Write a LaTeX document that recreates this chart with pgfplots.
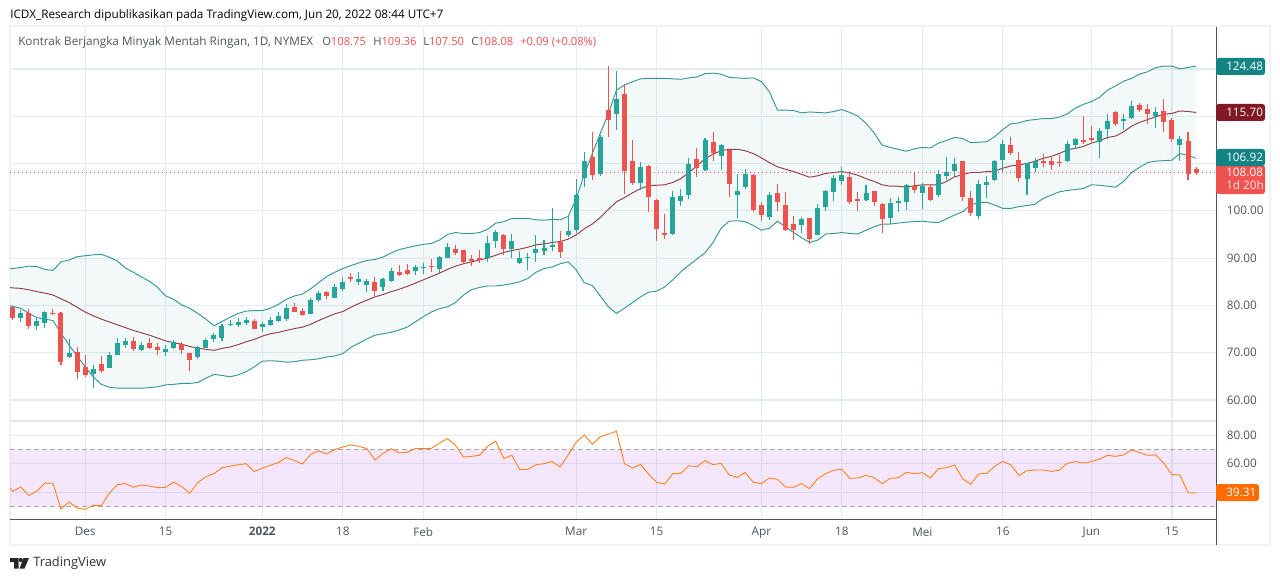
\documentclass[border=0pt]{standalone}
\usepackage{fontspec}
\usepackage{pgfplots}
\usepackage{pgfplotstable}
\pgfplotsset{compat=1.18}
\usepgfplotslibrary{fillbetween}
\setmainfont{Open Sans}

\definecolor{upcol}{HTML}{26A69A}
\definecolor{downcol}{HTML}{EF5350}
\definecolor{bandcol}{HTML}{138484}
\definecolor{midcol}{HTML}{801922}
\definecolor{rsicol}{HTML}{FF6D00}
\definecolor{gridcol}{HTML}{E4ECF2}
\definecolor{txtcol}{HTML}{50535E}
\definecolor{framecol}{HTML}{F0F3FA}
\definecolor{sepcol}{HTML}{E0E3EB}

% i open high low close
\pgfplotstableread{
i o h l c
0 79.7 79.7 76.9 77.4
1 77.3 79.0 76.5 78.4
2 78.4 79.2 75.0 75.6
3 75.6 77.3 74.8 76.7
4 76.3 78.8 75.3 78.6
5 78.3 79.2 78.0 78.1
6 78.4 78.6 67.4 68.0
7 69.1 72.9 68.9 69.9
8 70.1 71.2 64.4 65.9
9 67.0 69.5 64.9 65.3
10 65.5 67.4 62.5 66.6
11 67.6 69.3 65.7 66.1
12 66.8 70.1 66.8 69.5
13 69.5 73.1 69.5 72.1
14 71.6 73.1 71.0 72.5
15 72.5 73.3 70.4 70.8
16 70.6 72.3 70.4 71.6
17 72.1 73.1 70.8 71.0
18 71.2 72.1 69.5 70.6
19 70.1 71.6 69.3 70.8
20 71.0 72.7 70.8 72.3
21 71.9 72.3 69.7 70.6
22 69.9 69.9 66.1 68.5
23 69.1 71.4 68.7 71.2
24 71.0 73.1 71.0 72.7
25 72.9 74.2 72.3 73.7
26 73.1 76.1 72.5 75.6
27 75.9 76.9 75.6 76.1
28 75.9 77.3 75.4 76.5
29 76.3 77.5 75.9 76.9
30 76.7 77.1 75.0 75.0
31 75.4 76.5 74.4 76.1
32 75.9 77.5 75.6 76.9
33 76.8 78.6 76.5 77.8
34 77.1 80.3 76.7 79.5
35 79.7 80.5 78.6 78.6
36 78.8 79.5 77.8 78.0
37 78.2 81.6 78.2 81.1
38 81.1 83.0 80.7 82.6
39 82.8 83.0 81.4 82.0
40 81.6 84.5 81.6 83.9
41 83.5 86.0 83.0 84.9
42 86.0 86.9 84.9 85.6
43 84.9 87.1 84.3 85.6
44 84.3 85.6 82.8 85.2
45 84.9 86.0 82.0 83.0
46 83.9 85.8 83.0 85.6
47 85.2 87.9 84.9 87.3
48 87.1 88.5 86.2 86.4
49 87.5 88.8 86.4 86.6
50 87.3 88.5 86.4 88.2
51 88.0 89.0 86.6 88.1
52 88.3 89.8 87.1 88.1
53 87.7 90.4 86.9 90.2
54 90.0 93.2 90.0 92.3
55 91.9 92.8 90.7 91.1
56 91.7 91.7 88.8 89.2
57 89.8 90.7 88.3 89.4
58 90.0 91.7 89.0 89.5
59 90.0 94.7 89.2 93.2
60 93.6 95.9 92.1 95.5
61 94.9 95.1 90.7 91.9
62 91.9 95.1 90.0 93.6
63 89.0 91.6 88.8 90.0
64 90.0 91.1 87.5 90.2
65 91.1 94.9 89.2 91.9
66 91.5 93.8 90.7 92.1
67 92.3 100.6 91.5 92.8
68 93.5 95.7 90.0 91.3
69 94.9 98.9 94.5 95.7
70 95.9 106.7 95.3 103.3
71 106.9 112.4 105.0 110.5
72 111.4 116.7 106.5 107.6
73 107.8 116.0 107.4 115.6
74 121.3 130.6 115.6 119.2
75 120.5 129.6 117.1 123.6
76 124.7 126.8 103.6 108.4
77 110.5 115.0 105.5 105.9
78 105.9 110.3 104.4 109.3
79 109.5 109.7 99.7 102.9
80 102.3 102.5 93.6 96.2
81 95.3 99.3 94.0 94.9
82 95.1 104.2 94.9 102.9
83 102.1 104.6 101.0 103.1
84 103.3 111.2 102.5 109.9
85 111.0 113.3 107.1 109.0
86 108.6 115.4 108.4 115.0
87 114.5 116.7 110.5 112.2
88 111.6 114.1 108.6 113.9
89 112.9 113.0 102.9 105.7
90 103.3 107.8 98.5 104.2
91 105.0 108.8 104.6 107.8
92 107.6 107.7 99.7 100.2
93 101.2 101.9 97.8 99.1
94 98.7 104.0 98.1 103.3
95 103.8 105.7 100.0 101.9
96 101.2 104.0 95.7 95.9
97 97.2 98.9 93.8 95.9
98 97.0 98.7 95.3 98.3
99 98.5 98.5 93.0 94.0
100 94.9 101.4 94.9 100.6
101 100.8 104.4 100.0 104.2
102 104.0 107.6 102.1 106.9
103 106.3 109.3 105.5 107.6
104 107.1 108.4 101.4 101.9
105 102.5 104.0 100.0 102.1
106 102.3 105.5 102.1 103.8
107 104.2 104.2 101.0 101.9
108 101.4 101.6 95.3 98.3
109 98.5 102.7 97.2 101.6
110 101.6 102.9 99.7 102.1
111 101.9 105.7 100.2 105.5
112 105.2 108.0 103.8 104.4
113 103.8 105.9 100.4 105.2
114 105.0 105.7 102.1 102.3
115 103.3 108.6 102.9 107.8
116 107.4 111.4 106.5 108.2
117 108.4 111.2 107.4 109.9
118 110.5 110.5 102.1 102.9
119 102.7 104.2 98.9 99.5
120 98.9 106.5 98.3 105.7
121 105.5 107.4 102.7 106.1
122 106.5 110.7 106.3 110.5
123 110.7 115.0 108.2 114.1
124 113.9 115.6 111.8 112.2
125 110.7 112.4 106.1 106.9
126 106.7 110.1 103.3 110.1
127 109.0 111.2 108.2 110.5
128 110.5 112.0 109.3 110.2
129 110.5 111.6 108.6 109.7
130 110.3 111.8 109.3 110.1
131 110.5 114.8 110.3 114.1
132 113.9 115.4 113.0 115.2
133 115.0 120.0 114.1 114.5
134 115.4 117.9 114.5 115.0
135 114.5 117.5 111.2 116.9
136 117.3 120.5 115.2 119.0
137 120.9 121.1 117.9 118.3
138 119.0 120.5 117.1 119.4
139 119.6 123.2 119.4 122.2
140 122.4 122.8 120.9 121.3
141 121.5 122.6 118.3 120.5
142 120.0 121.9 117.5 120.9
143 121.1 123.6 116.7 118.8
144 119.2 119.6 114.5 115.2
145 113.9 115.8 110.5 115.2
146 114.8 116.7 106.5 107.8
147 108.75 109.36 107.50 108.08
}\ohlc

% bollinger: i upper middle lower
\pgfplotstableread{
i u m b
-1 87.6 83.9 80.3
0 87.8 83.7 79.8
1 88.0 83.6 79.4
2 88.3 83.3 78.3
3 88.2 82.9 77.4
4 87.6 82.6 77.1
5 87.4 82.2 76.8
6 89.2 81.4 74.1
7 89.6 80.6 71.6
8 90.3 79.6 69.3
9 90.5 78.6 67.0
10 90.7 77.8 64.9
11 90.8 77.1 63.3
12 90.2 76.5 62.7
13 89.4 75.9 62.5
14 87.9 75.3 62.5
15 87.0 74.7 62.5
16 86.0 74.2 62.5
17 85.1 73.7 62.6
18 83.8 73.1 62.8
19 82.0 72.5 63.2
20 81.3 72.1 63.3
21 80.1 71.8 63.5
22 79.4 71.3 63.5
23 78.3 71.0 63.7
24 77.1 70.7 64.6
25 75.7 70.5 65.4
26 76.6 70.9 65.2
27 77.5 71.2 64.9
28 78.3 71.7 65.3
29 78.8 72.3 66.0
30 78.9 72.8 67.0
31 78.9 73.5 68.2
32 79.4 74.0 68.3
33 80.2 74.3 68.2
34 81.3 74.7 68.0
35 82.0 75.1 68.1
36 82.4 75.4 68.4
37 83.5 76.0 68.5
38 84.8 76.8 68.7
39 86.1 77.5 69.1
40 87.0 78.2 69.3
41 87.8 78.7 69.8
42 88.4 79.6 71.1
43 89.0 80.4 72.0
44 89.5 81.1 72.9
45 89.7 81.8 73.7
46 90.2 82.3 74.0
47 91.1 82.9 74.3
48 91.8 83.4 74.8
49 92.2 84.0 75.4
50 92.6 84.7 76.5
51 92.9 85.4 77.6
52 93.1 86.1 78.6
53 93.8 86.8 79.3
54 95.0 87.6 79.7
55 95.4 88.3 80.6
56 95.2 88.8 82.2
57 95.2 89.2 83.3
58 95.4 89.6 83.8
59 96.1 90.0 84.1
60 97.4 90.6 84.1
61 97.7 91.2 84.3
62 98.4 91.6 84.6
63 98.4 91.9 85.0
64 98.4 92.3 85.7
65 98.1 92.8 87.0
66 98.0 93.0 87.8
67 98.2 93.3 88.1
68 98.1 93.5 88.8
69 98.8 94.0 89.2
70 102.6 94.9 87.5
71 107.6 96.2 84.8
72 112.1 97.2 84.2
73 116.4 98.6 82.0
74 120.6 100.3 79.7
75 125.5 101.9 78.3
76 126.6 102.8 79.4
77 127.3 103.8 80.6
78 127.9 104.7 81.8
79 128.0 105.3 82.8
80 128.0 105.4 83.0
81 128.0 105.5 83.9
82 127.9 106.0 85.4
83 127.8 106.8 87.1
84 128.1 108.1 88.5
85 128.3 109.5 89.8
86 129.0 111.0 91.1
87 129.1 112.0 93.3
88 128.9 112.7 96.3
89 128.2 113.0 97.8
90 128.1 113.0 97.9
91 128.0 112.7 97.7
92 128.1 112.1 96.9
93 127.3 111.2 95.9
94 125.2 110.2 96.3
95 121.3 109.3 97.8
96 121.3 108.8 96.6
97 121.2 108.3 95.4
98 120.7 107.7 94.3
99 120.9 107.1 93.3
100 120.8 107.4 93.8
101 120.7 107.9 95.1
102 121.0 108.1 95.2
103 121.4 108.3 95.4
104 120.8 108.0 95.2
105 120.0 107.5 95.1
106 118.5 106.8 95.9
107 116.5 106.2 96.6
108 113.9 105.5 97.2
109 113.4 105.2 97.2
110 113.0 105.2 97.4
111 112.6 105.0 97.6
112 113.1 105.3 97.7
113 113.4 105.5 97.8
114 113.3 105.5 97.6
115 114.3 105.5 97.5
116 114.9 106.2 98.3
117 115.5 107.2 99.1
118 115.3 107.6 99.8
119 114.4 108.1 101.2
120 114.5 108.1 101.8
121 114.6 108.3 101.8
122 115.7 108.4 101.2
123 117.2 109.0 100.5
124 118.4 109.5 100.5
125 118.6 109.7 100.9
126 119.1 110.0 101.1
127 119.3 110.5 101.4
128 119.5 111.1 102.6
129 119.5 111.5 103.3
130 119.8 112.1 104.0
131 120.5 112.9 104.3
132 121.7 113.2 104.5
133 122.5 113.6 104.7
134 123.1 114.3 105.5
135 124.0 114.8 105.4
136 125.5 115.5 105.2
137 126.4 115.8 105.0
138 127.4 116.7 106.2
139 128.0 117.9 108.1
140 128.9 118.7 109.2
141 129.4 119.3 110.2
142 130.3 119.9 110.5
143 130.6 120.4 110.6
144 130.6 120.6 110.7
145 130.0 121.1 112.1
146 130.3 121.0 111.7
147 130.6 120.8 111.1
}\bands

% rsi
\pgfplotstableread{
i r
-1 47.4
0 40.6
1 43.6
2 37.7
3 40.6
4 46.4
5 46.2
6 28.1
7 33.1
8 28.8
9 27.9
10 30.7
11 30.5
12 39.2
13 45.3
14 46.0
15 43.4
16 45.0
17 44.3
18 43.1
19 43.4
20 47.1
21 43.8
22 39.2
23 46.7
24 50.9
25 53.0
26 57.2
27 58.2
28 59.3
29 60.0
30 54.6
31 56.8
32 58.9
33 60.8
34 64.3
35 62.2
36 59.8
37 66.6
38 69.0
39 66.9
40 69.9
41 71.8
42 73.2
43 72.3
44 70.6
45 62.6
46 67.3
47 70.6
48 67.6
49 68.0
50 70.6
51 70.6
52 70.8
53 74.4
54 77.7
55 73.0
56 64.7
57 65.2
58 65.9
59 72.3
60 75.8
61 63.6
62 65.9
63 55.8
64 56.1
65 59.3
66 60.0
67 61.5
68 57.7
69 66.2
70 75.1
71 80.2
72 73.7
73 79.1
74 80.9
75 82.8
76 60.0
77 57.0
78 59.6
79 52.5
80 46.9
81 45.7
82 53.0
83 53.2
84 58.6
85 57.9
86 62.2
87 59.3
88 60.3
89 52.1
90 50.4
91 53.7
92 46.9
93 46.0
94 50.0
95 49.0
96 43.6
97 43.4
98 46.0
99 42.4
100 49.5
101 53.0
102 55.4
103 56.1
104 49.7
105 50.0
106 51.8
107 50.2
108 46.0
109 49.7
110 50.2
111 53.9
112 53.0
113 53.7
114 50.0
115 56.5
116 57.2
117 59.1
118 49.5
119 45.5
120 52.8
121 53.2
122 58.2
123 61.7
124 59.1
125 51.8
126 55.1
127 55.6
128 55.6
129 54.6
130 55.4
131 60.3
132 61.5
133 60.5
134 61.5
135 63.3
136 65.9
137 65.2
138 66.2
139 69.7
140 67.8
141 65.9
142 66.2
143 60.3
144 52.3
145 52.1
146 39.6
147 39.31
}\rsi

\pgfplotsset{
  chart/.style={
    scale only axis, anchor=north west,
    width=904.5pt, xmin=-0.335, xmax=149.48,
    axis line style={draw=none}, major tick length=0pt,
    xmajorgrids, ymajorgrids,
    grid style={gridcol, line width=0.9pt},
    xtick={9,19,31,41,51,70,80,93,103,113,123,134,144},
    yticklabel pos=right,
    yticklabel style={anchor=west, font=\fontsize{8.8pt}{11pt}\selectfont, text=txtcol, xshift=4.6pt},
    xticklabel style={font=\fontsize{8.8pt}{11pt}\selectfont, text=txtcol},
  },
  wick/.style={draw=none, forget plot, error bars/.cd, y dir=minus, y explicit,
    error mark=none, error bar style={solid, #1, line width=0.8pt}},
  body/.style={draw=none, forget plot, error bars/.cd, y dir=minus, y explicit,
    error mark=none, error bar style={solid, #1, line width=3.75pt}},
}

\begin{document}
\begin{tikzpicture}
\begin{scope}[x=0.75pt,y=-0.75pt]
\path[use as bounding box] (0,0) rectangle (1280,581);
\draw[framecol, line width=1.5pt] (9.5,26.5) rectangle (1270,545);
\end{scope}

\begin{axis}[chart, at={(7.5pt,-20.25pt)}, height=295.5pt,
    ymin=55.56, ymax=138.86,
    ytick={60,70,...,130},
    yticklabels={60.00,70.00,80.00,90.00,100.00,,,},
    xticklabels={}]
  \addplot[name path=up, bandcol!85, line width=0.7pt] table[x=i,y=u] {\bands};
  \addplot[name path=lo, bandcol!85, line width=0.7pt] table[x=i,y=b] {\bands};
  \addplot[fill=bandcol, draw=none, fill opacity=0.05] fill between[of=up and lo];
  \addplot[midcol!85, line width=0.7pt] table[x=i,y=m] {\bands};
  % red candles
  \addplot[wick=downcol] table[x expr={\thisrow{c}<\thisrow{o} ? \thisrow{i} : nan}, y=h,
      y error minus expr=\thisrow{h}-\thisrow{l}] {\ohlc};
  \addplot[body=downcol] table[x expr={\thisrow{c}<\thisrow{o} ? \thisrow{i} : nan}, y=o,
      y error minus expr=\thisrow{o}-\thisrow{c}] {\ohlc};
  % green candles
  \addplot[wick=upcol] table[x expr={\thisrow{c}>=\thisrow{o} ? \thisrow{i} : nan}, y=h,
      y error minus expr=\thisrow{h}-\thisrow{l}] {\ohlc};
  \addplot[body=upcol] table[x expr={\thisrow{c}>=\thisrow{o} ? \thisrow{i} : nan}, y=c,
      y error minus expr=\thisrow{c}-\thisrow{o}] {\ohlc};
  % last price line
  \addplot[downcol, line width=0.75pt, dash pattern=on 1pt off 2pt] coordinates {(-0.335,108.08) (149.48,108.08)};
\end{axis}

\begin{axis}[chart, at={(7.5pt,-315.75pt)}, height=73.3pt,
    ymin=21.27, ymax=90.07,
    ytick={40,60,80},
    yticklabels={,60.00,80.00},
    xticklabels={Des,15,\textbf{2022},18,Feb,Mar,15,Apr,18,Mei,16,Jun,15},
    xticklabel style={yshift=-3pt}]
  \addplot[draw=none, fill={rgb,255:red,156;green,39;blue,224}, fill opacity=0.11]
    coordinates {(-0.335,30) (149.48,30) (149.48,70) (-0.335,70)} -- cycle;
  \addplot[gray!70, line width=0.75pt, dash pattern=on 3.5pt off 2.5pt] coordinates {(-0.335,70) (149.48,70)};
  \addplot[gray!70, line width=0.75pt, dash pattern=on 3.5pt off 2.5pt] coordinates {(-0.335,30) (149.48,30)};
  \addplot[rsicol!85, line width=0.7pt] table[x=i,y=r] {\rsi};
\end{axis}

\begin{scope}[x=0.75pt,y=-0.75pt, every node/.style={inner sep=0pt, font=\fontsize{8.8pt}{11pt}\selectfont}]
\draw[sepcol, line width=1.2pt] (10,421) -- (1216,421);
\draw[txtcol, line width=0.75pt] (10,519) -- (1216,519);
\draw[txtcol, line width=0.75pt] (1216,27) -- (1216,545);

\node[anchor=west, text=black] at (10,15) {ICDX\_Research dipublikasikan pada TradingView.com, Jun 20, 2022 08:44 UTC+7};
\node[anchor=west, text=txtcol] at (18,42) {Kontrak Berjangka Minyak Mentah Ringan, 1D, NYMEX};
\begin{scope}[every node/.style={inner sep=0pt, font=\fontsize{8.4pt}{11pt}\selectfont}]
\node[anchor=west, text=txtcol] at (322,42) {O\textcolor{downcol}{108.75}};
\node[anchor=west, text=txtcol] at (373,42) {H\textcolor{downcol}{109.36}};
\node[anchor=west, text=txtcol] at (423,42) {L\textcolor{downcol}{107.50}};
\node[anchor=west, text=txtcol] at (471,42) {C\textcolor{downcol}{108.08}};
\node[anchor=west, text=downcol] at (520,42) {+0.09 (+0.08\%)};
\end{scope}

\fill[bandcol, rounded corners=2pt] (1216,58) rectangle (1265,75);
\node[anchor=west, text=white] at (1226,66.5) {124.48};
\fill[midcol, rounded corners=2pt] (1216,104) rectangle (1265,121);
\node[anchor=west, text=white] at (1226,112.5) {115.70};
\fill[downcol, rounded corners=2pt] (1216,165) rectangle (1265,194);
\fill[bandcol, rounded corners=2pt] (1216,149) rectangle (1265,166);
\node[anchor=west, text=white] at (1226,157.5) {106.92};
\node[anchor=west, text=white] at (1226,172.5) {108.08};
\node[anchor=west, text=white!85!downcol] at (1226,185.5) {1d 20h};
\fill[rsicol, rounded corners=2pt] (1216,484) rectangle (1259,501);
\node[anchor=west, text=white] at (1226,492.5) {39.31};

% logo
\fill[black!85] (10,558) -- (18.5,558) -- (18.5,568.5) -- (14,568.5) -- (14,562) -- (10,562) -- cycle;
\fill[black!85] (20.8,560) circle (2.1);
\fill[black!85] (23.5,558) -- (29,558) -- (24.5,568.5) -- (19.5,568.5) -- cycle;
\node[anchor=west, text=black!80, font=\fontsize{9.7pt}{12pt}\selectfont] at (33,563.5) {TradingView};
\end{scope}
\end{tikzpicture}
\end{document}
